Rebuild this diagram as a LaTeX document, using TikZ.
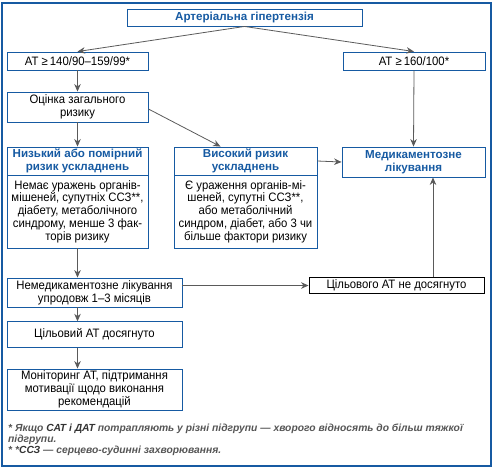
\documentclass[tikz,border=0pt]{standalone}
\usepackage{fontspec}
\setmainfont{Liberation Sans}
\newfontfamily\narrowfont{Liberation Sans}[FakeStretch=0.93,Ligatures=TeX]
\usepackage{xcolor}
\usetikzlibrary{arrows.meta}
\definecolor{frameblue}{RGB}{22,90,162}
\definecolor{arrgray}{RGB}{90,90,90}
\definecolor{notegray}{RGB}{85,85,85}
\newcommand{\boxfont}{\narrowfont\fontsize{12.2}{12.8}\selectfont}
\newcommand{\headfont}{\fontsize{11.6}{12.8}\selectfont\bfseries}
\newcommand{\notefont}{\fontsize{10.3}{10.7}\selectfont}

\begin{document}
\begin{tikzpicture}[x=1pt,y=-1pt,
  box/.style={draw=frameblue,line width=0.9pt,inner sep=0pt,align=center,font=\boxfont},
  headbox/.style={box,text=frameblue,font=\headfont},
  plainbox/.style={box,draw=black},
  arr/.style={draw=arrgray,line width=0.8pt,-{Stealth[length=7.5pt,width=6.5pt]}}]
\useasboundingbox (0,0) rectangle (494,469);
\draw[frameblue,line width=1.2pt] (2,3) rectangle (491,466);
% upper part
\node[headbox,minimum width=235pt,minimum height=17pt] (title) at (244.5,17.5) {Артеріальна гіпертензія};
\node[box,minimum width=141pt,minimum height=18pt] (at1) at (77.5,61) {АТ ≥\,140/90–159/99*};
\node[box,minimum width=142pt,minimum height=18pt] (at2) at (414,61) {АТ ≥\,160/100*};
\node[box,minimum width=141pt,minimum height=30pt] (risk) at (77.5,107) {Оцінка загального\\ризику};
% risk groups
\node[headbox,minimum width=141pt,minimum height=28pt] (lowhead) at (77.5,161) {Низький або помірний\\ризик ускладнень};
\node[box,minimum width=141pt,minimum height=73pt] (lowbody) at (77.5,211.5) {Немає уражень органів-\\мішеней, супутніх ССЗ**,\\діабету, метаболічного\\синдрому, менше 3 фак-\\торів ризику};
\node[headbox,minimum width=143pt,minimum height=28pt] (highhead) at (245.5,161) {Високий ризик\\ускладнень};
\node[box,minimum width=143pt,minimum height=73pt] (highbody) at (245.5,211.5) {Є ураження органів-мі-\\шеней, супутні ССЗ**,\\або метаболічний\\синдром, діабет, або 3 чи\\більше фактори ризику};
\node[headbox,minimum width=143pt,minimum height=30pt] (drug) at (413.5,162) {Медикаментозне\\лікування};
% lower part
\node[box,minimum width=175pt,minimum height=29pt] (nondrug) at (94.5,292.5) {Немедикаментозне лікування\\упродовж 1–3 місяців};
\node[plainbox,minimum width=175pt,minimum height=15.5pt] (notgoal) at (396.5,285.5) {Цільового АТ не досягнуто};
\node[box,minimum width=175pt,minimum height=25.5pt] (goal) at (94.5,334.5) {Цільовий АТ досягнуто};
\node[box,minimum width=175pt,minimum height=41pt] (monitor) at (94.5,389.5) {Моніторинг АТ, підтримання\\мотивації щодо виконання\\рекомендацій};
% arrows
\draw[arr] (title.south) -- (at1.north);
\draw[arr] (title.south) -- (at2.north);
\draw[arr] (at1.south) -- (risk.north);
\draw[arr] (risk.south) -- (lowhead.north);
\draw[arr] ([yshift=-2pt]risk.east) -- ([xshift=-25pt]highhead.north);
\draw[arr] (at2.south) -- (drug.north);
\draw[arr] (highhead.east) -- (drug.west);
\draw[arr] (lowbody.south) -- (lowbody.south |- nondrug.north);
\draw[arr] (nondrug.east |- notgoal.west) -- (notgoal.west);
\draw[arr] ([xshift=36.5pt]notgoal.north) coordinate (up) -- (up |- drug.south);
\draw[arr] (lowbody.south |- nondrug.south) -- (lowbody.south |- goal.north);
\draw[arr] (lowbody.south |- goal.south) -- (lowbody.south |- monitor.north);
% notes
\node[anchor=north west,inner sep=0pt,align=left,text=notegray,font=\notefont\bfseries\itshape] (notes) at (8,424)
 {* Якщо {\color{black!80}САТ і ДАТ} потрапляють у різні підгрупи — хворого відносять до більш тяжкої\\
  підгрупи.\\
  * *{\color{black!80}ССЗ} — серцево-судинні захворювання.};
\end{tikzpicture}
\end{document}
